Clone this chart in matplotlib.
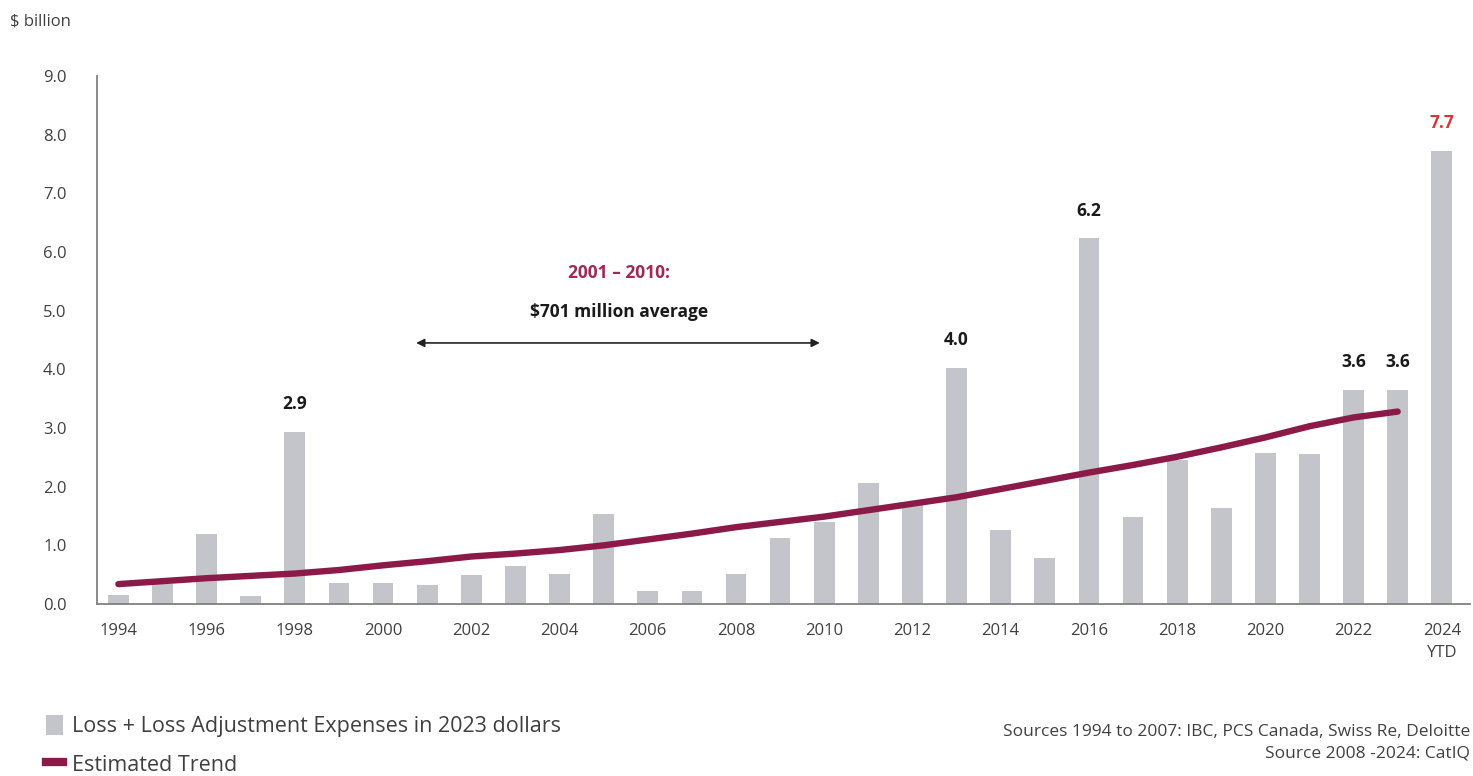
import numpy as np
import matplotlib
matplotlib.use("Agg")
import matplotlib.pyplot as plt
from matplotlib.patches import Patch
from matplotlib.lines import Line2D

plt.rcParams['font.family'] = ['Open Sans', 'DejaVu Sans']

# data ($ billion, 2023 dollars)
years = np.arange(1994, 2025)
losses = [0.15, 0.35, 1.19, 0.14, 2.93, 0.36, 0.36, 0.32, 0.49, 0.65,
          0.52, 1.53, 0.22, 0.22, 0.52, 1.13, 1.40, 2.06, 1.68, 4.03,
          1.26, 0.78, 6.23, 1.49, 2.45, 1.63, 2.58, 2.55, 3.65, 3.65,
          7.72]
trend_years = np.arange(1994, 2024)
trend = [0.34, 0.39, 0.44, 0.48, 0.52, 0.58, 0.66, 0.73, 0.81, 0.86,
         0.92, 1.00, 1.10, 1.20, 1.31, 1.40, 1.49, 1.60, 1.71, 1.82,
         1.96, 2.10, 2.24, 2.37, 2.51, 2.67, 2.84, 3.03, 3.18, 3.28]
labels = {1998: "2.9", 2013: "4.0", 2016: "6.2", 2022: "3.6", 2023: "3.6", 2024: "7.7"}
tick_years = list(range(1994, 2025, 2))
tick_labels = [str(y) for y in tick_years[:-1]] + ["2024\nYTD"]

bar_color = "#C4C5CA"
trend_color = "#8C1A48"

fig = plt.figure(figsize=(14.73, 7.76), dpi=100)
ax = fig.add_axes([0.066, 0.2216, 0.932, 0.6805])

ax.bar(years, losses, width=0.47, color=bar_color, zorder=1)
ax.plot(trend_years, trend, color=trend_color, lw=4.6, solid_capstyle='round', zorder=2)

for yr, txt in labels.items():
    v = losses[yr - 1994]
    ax.text(yr, v + 0.32, txt, ha='center', va='bottom', fontsize=12.5, fontweight='bold',
            color="#D03A3A" if yr == 2024 else "#1a1a1a")

# 2001-2010 average annotation
ax.annotate("", xy=(2000.75, 4.45), xytext=(2009.9, 4.45),
            arrowprops=dict(arrowstyle='<|-|>', color='#222222', lw=1.2,
                            mutation_scale=12, shrinkA=0, shrinkB=0))
ax.text(2005.35, 5.64, "2001 – 2010:", ha='center', va='center', fontsize=12.5,
        fontweight='bold', color="#9E2A55")
ax.text(2005.35, 4.98, "$701 million average", ha='center', va='center', fontsize=12.5,
        fontweight='bold', color="#1a1a1a")

ax.set_xlim(1993.52, 2024.64)
ax.set_ylim(0, 9)
ax.set_yticks(np.arange(0, 9.1, 1.0))
ax.set_yticklabels([f"{v:.1f}" for v in np.arange(0, 9.1, 1.0)])
ax.set_xticks(tick_years)
ax.set_xticklabels(tick_labels, linespacing=1.5)
ax.tick_params(axis='both', length=0, labelsize=12, labelcolor="#404040")
ax.tick_params(axis='x', pad=14)
ax.tick_params(axis='y', pad=22)
for s in ['top', 'right']:
    ax.spines[s].set_visible(False)
for s in ['left', 'bottom']:
    ax.spines[s].set_color("#808080")
    ax.spines[s].set_linewidth(1.3)

fig.text(0.007, 0.972, "$ billion", fontsize=12, color="#404040", va='center', ha='left')

handles = [Patch(facecolor=bar_color, edgecolor='none'),
           Line2D([0], [0], color=trend_color, lw=6)]
fig.legend(handles, ["Loss + Loss Adjustment Expenses in 2023 dollars", "Estimated Trend"],
           loc='lower left', bbox_to_anchor=(0.018, -0.025), frameon=False, fontsize=15.5,
           handlelength=0.8, handleheight=1.1, handletextpad=0.4, labelspacing=0.75,
           labelcolor="#404040")

fig.text(0.998, 0.043, "Sources 1994 to 2007: IBC, PCS Canada, Swiss Re, Deloitte\nSource 2008 -2024: CatIQ",
         ha='right', va='center', fontsize=12.5, color="#404040", linespacing=1.45,
         multialignment='right')

fig.savefig("out.png", dpi=100)
